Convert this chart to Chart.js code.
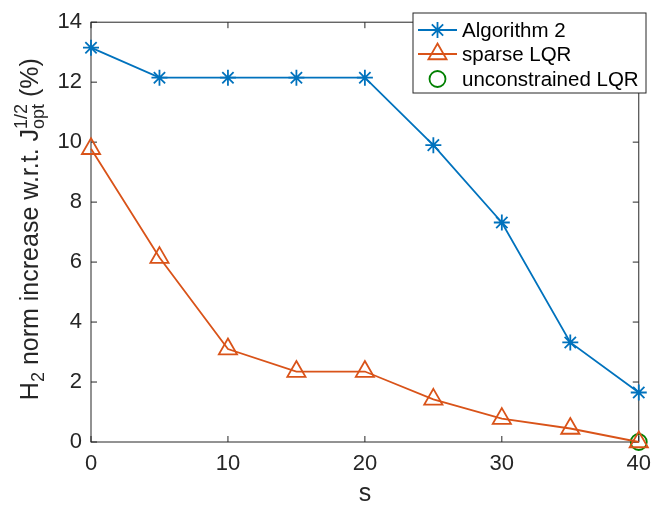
<!DOCTYPE html>
<html>
<head>
<meta charset="utf-8">
<script src="https://cdn.jsdelivr.net/npm/chart.js@4.4.1/dist/chart.umd.min.js"></script>
<style>
  html, body { margin: 0; background: #fff; }
  #wrap { width: 660px; height: 513px; }
</style>
</head>
<body>
<div id="wrap"><canvas id="normChart" width="660" height="513"></canvas></div>
<script>
// sparsity level s and the H2 norm increase (%) of each controller
const sValues = [0, 5, 10, 15, 20, 25, 30, 35, 40];
const algorithm2 = [13.15, 12.15, 12.15, 12.15, 12.15, 9.9, 7.32, 3.32, 1.65];
const sparseLqr = [9.78, 6.15, 3.1, 2.35, 2.35, 1.42, 0.78, 0.45, 0];
const unconstrainedS = [40];
const unconstrainedLqr = [0];

const xTicks = [0, 10, 20, 30, 40];
const yTicks = [0, 2, 4, 6, 8, 10, 12, 14];

const FONT = '"Liberation Sans", Arial, Helvetica, sans-serif';
const AXIS_COLOR = '#262626';
const BLUE = '#0072BD';
const ORANGE = '#D95319';
const GREEN = '#008000';
const LW = 1.8;

const toPoints = (xs, ys) => xs.map((x, i) => ({ x, y: ys[i] }));

const series = [
  { label: 'Algorithm 2', color: BLUE, style: 'star', radius: 8, line: true },
  { label: 'sparse LQR', color: ORANGE, style: 'triangle', radius: 10.5, line: true },
  { label: 'unconstrained LQR', color: GREEN, style: 'circle', radius: 8, line: false },
];

// box around the axes with inward ticks on all four sides
const axesBox = {
  id: 'axesBox',
  beforeDatasetsDraw(chart) {
    const { ctx, chartArea: a, scales } = chart;
    const tl = 6;
    ctx.save();
    ctx.strokeStyle = AXIS_COLOR;
    ctx.lineWidth = 1;
    ctx.strokeRect(a.left, a.top, a.right - a.left, a.bottom - a.top);
    ctx.beginPath();
    xTicks.forEach((v) => {
      const x = scales.x.getPixelForValue(v);
      ctx.moveTo(x, a.bottom); ctx.lineTo(x, a.bottom - tl);
      ctx.moveTo(x, a.top); ctx.lineTo(x, a.top + tl);
    });
    yTicks.forEach((v) => {
      const y = scales.y.getPixelForValue(v);
      ctx.moveTo(a.left, y); ctx.lineTo(a.left + tl, y);
      ctx.moveTo(a.right, y); ctx.lineTo(a.right - tl, y);
    });
    ctx.stroke();
    ctx.restore();
  },
};

// axis titles, the y one with sub/superscripts
const axisTitles = {
  id: 'axisTitles',
  afterDraw(chart) {
    const { ctx, chartArea: a } = chart;
    ctx.save();
    ctx.fillStyle = AXIS_COLOR;
    ctx.textBaseline = 'alphabetic';

    ctx.font = `25px ${FONT}`;
    ctx.textAlign = 'center';
    ctx.fillText('s', (a.left + a.right) / 2, 501);

    const big = `25px ${FONT}`;
    const small = `18px ${FONT}`;
    const parts = [
      { t: 'H', f: big, dy: 0 },
      { t: '2', f: small, dy: 6 },
      { t: ' norm increase w.r.t. J', f: big, dy: 0 },
      { stack: [{ t: '1/2', f: small, dy: -11 }, { t: 'opt', f: small, dy: 6 }] },
      { t: ' (%)', f: big, dy: 0 },
    ];
    const width = (p) => {
      if (p.stack) return Math.max(...p.stack.map(width));
      ctx.font = p.f;
      return ctx.measureText(p.t).width;
    };
    const total = parts.reduce((s, p) => s + width(p), 0);
    ctx.translate(38, (a.top + a.bottom) / 2 - 3);
    ctx.rotate(-Math.PI / 2);
    ctx.textAlign = 'left';
    let x = -total / 2;
    parts.forEach((p) => {
      const items = p.stack || [p];
      items.forEach((q) => {
        ctx.font = q.f;
        ctx.fillText(q.t, x, q.dy);
      });
      x += width(p);
    });
    ctx.restore();
  },
};

// legend box in the upper right corner
const boxLegend = {
  id: 'boxLegend',
  afterDraw(chart) {
    const { ctx } = chart;
    const left = 413, top = 13, right = 646, bottom = 93;
    const rows = [30, 54, 79];
    ctx.save();
    ctx.fillStyle = '#fff';
    ctx.fillRect(left, top, right - left, bottom - top);
    ctx.strokeStyle = AXIS_COLOR;
    ctx.lineWidth = 1;
    ctx.strokeRect(left, top, right - left, bottom - top);
    series.forEach((s, i) => {
      const y = rows[i];
      ctx.strokeStyle = s.color;
      ctx.lineWidth = LW;
      if (s.line) {
        ctx.beginPath();
        ctx.moveTo(418, y); ctx.lineTo(457, y);
        ctx.stroke();
      }
      ctx.fillStyle = 'rgba(0,0,0,0)';
      Chart.helpers.drawPoint(ctx, { pointStyle: s.style, radius: s.radius, rotation: 0, borderWidth: LW }, 437.5, y);
      ctx.fillStyle = '#000';
      ctx.font = `20.5px ${FONT}`;
      ctx.textAlign = 'left';
      ctx.textBaseline = 'middle';
      ctx.fillText(s.label, 462, y + 1);
    });
    ctx.restore();
  },
};

const dataset = (s, xs, ys) => ({
  label: s.label,
  data: toPoints(xs, ys),
  borderColor: s.color,
  backgroundColor: 'rgba(0,0,0,0)',
  borderWidth: LW,
  showLine: s.line,
  pointStyle: s.style,
  pointRadius: s.radius,
  pointBorderWidth: LW,
  pointBorderColor: s.color,
  pointBackgroundColor: 'rgba(0,0,0,0)',
  clip: false,
});

new Chart(document.getElementById('normChart'), {
  type: 'line',
  data: {
    datasets: [
      dataset(series[0], sValues, algorithm2),
      dataset(series[1], sValues, sparseLqr),
      dataset(series[2], unconstrainedS, unconstrainedLqr),
    ],
  },
  options: {
    responsive: false,
    animation: false,
    devicePixelRatio: 1,
    layout: { padding: { top: 11, right: 11, left: 0, bottom: 0 } },
    plugins: {
      legend: { display: false },
      tooltip: { enabled: false },
    },
    scales: {
      x: {
        type: 'linear',
        min: 0,
        max: 40,
        afterBuildTicks: (scale) => { scale.ticks = xTicks.map((v) => ({ value: v })); },
        afterFit: (scale) => { scale.height = 71; },
        grid: { display: false, drawTicks: false },
        border: { display: false },
        ticks: { color: AXIS_COLOR, font: { family: FONT, size: 22 }, padding: 9, maxRotation: 0 },
      },
      y: {
        type: 'linear',
        min: 0,
        max: 14,
        afterBuildTicks: (scale) => { scale.ticks = yTicks.map((v) => ({ value: v })); },
        afterFit: (scale) => { scale.width = 91; },
        grid: { display: false, drawTicks: false },
        border: { display: false },
        ticks: { color: AXIS_COLOR, font: { family: FONT, size: 22 }, padding: 9 },
      },
    },
  },
  plugins: [axesBox, axisTitles, boxLegend],
});
</script>
</body>
</html>
